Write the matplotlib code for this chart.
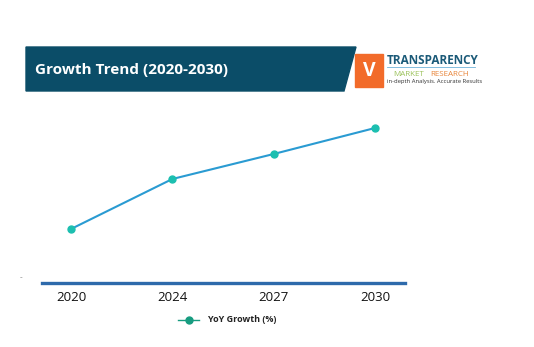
import matplotlib.pyplot as plt
from matplotlib.patches import Polygon, Rectangle
import numpy as np

# data
years = ['2020', '2024', '2027', '2030']
yoy_growth = [5.4, 10.4, 12.9, 15.5]

plt.rcParams['font.family'] = ['Open Sans', 'DejaVu Sans']

W, H = 534, 347
fig = plt.figure(figsize=(W / 100, H / 100), dpi=100)

def fx(px):
    return px / W

def fy(py):
    return 1 - py / H

# header banner
banner = Polygon([(fx(26), fy(47)), (fx(356), fy(47)), (fx(344), fy(91)), (fx(26), fy(91))],
                 closed=True, transform=fig.transFigure, color='#0b4d68', zorder=1)
fig.patches.append(banner)
fig.text(fx(35), fy(70), 'Growth Trend (2020-2030)', color='white', fontsize=11,
         fontweight='bold', va='center', ha='left')

# logo
fig.patches.append(Rectangle((fx(355), fy(87)), fx(28), 33 / H, transform=fig.transFigure,
                             color='#f26b2a', zorder=2))
fig.text(fx(369), fy(71), 'V', color='white', fontsize=14, fontweight='bold',
         ha='center', va='center', zorder=3)
fig.text(fx(387), fy(60), 'TRANSPARENCY', color='#1b5a78', fontsize=8.5,
         fontweight='bold', ha='left', va='center')
fig.add_artist(plt.Line2D([fx(387), fx(475)], [fy(67), fy(67)], color='#6fb3d9', lw=0.6))
fig.text(fx(393), fy(74), 'MARKET', color='#9bc25a', fontsize=5.8,
         ha='left', va='center')
fig.text(fx(430), fy(74), 'RESEARCH', color='#e8853a', fontsize=5.8,
         ha='left', va='center')
fig.text(fx(387), fy(82), 'in-depth Analysis. Accurate Results', color='#333333',
         fontsize=4.2, ha='left', va='center')

# plot area
ax = fig.add_axes([fx(42), fy(283), fx(405) - fx(42), (283 - 100) / H])
x = np.arange(len(years))
ax.plot(x, yoy_growth, color='#2a9bd2', lw=1.5, marker='o', markersize=5,
        markerfacecolor='#1cbfb0', markeredgecolor='#1cbfb0', zorder=3)
ax.set_xlim(-0.286, 3.296)
ax.set_ylim(0, 18.3)
for s in ['top', 'right', 'left']:
    ax.spines[s].set_visible(False)
ax.spines['bottom'].set_color('#2e6aab')
ax.spines['bottom'].set_linewidth(2.4)
ax.set_yticks([])
ax.set_xticks(x)
ax.set_xticklabels(years, fontsize=9.5, color='#111111')
ax.tick_params(axis='x', length=0, pad=6)
ax.patch.set_alpha(0)

fig.text(fx(20), fy(278), '-', color='#777777', fontsize=6, ha='left', va='center')

# legend
fig.add_artist(plt.Line2D([fx(178), fx(199)], [fy(320), fy(320)], color='#179c80', lw=1.0))
fig.add_artist(plt.Line2D([fx(188.5)], [fy(320)], color='#179c80', marker='o',
                          markersize=5, lw=0))
fig.text(fx(208), fy(320), 'YoY Growth (%)', fontsize=6.5, fontweight='bold',
         color='#222222', ha='left', va='center')

fig.savefig('out.png', dpi=100)
